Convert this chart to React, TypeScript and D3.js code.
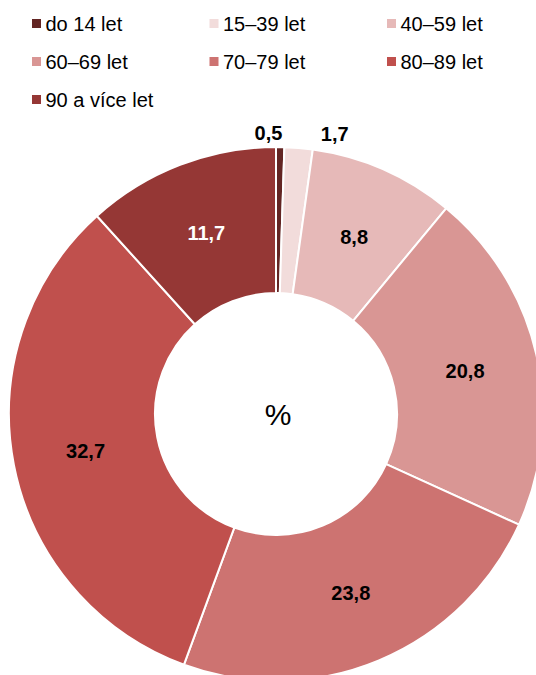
import React from "react";
import * as d3 from "d3";

const categories = ["do 14 let", "15–39 let", "40–59 let", "60–69 let", "70–79 let", "80–89 let", "90 a více let"];
const values = [0.5, 1.7, 8.8, 20.8, 23.8, 32.7, 11.7];
const colors = ["#632523", "#F2DCDB", "#E6B9B8", "#D99694", "#CD7371", "#C0504D", "#953735"];
const labelColors = ["#000", "#000", "#000", "#000", "#000", "#000", "#fff"];
const outsideLabels = [true, true, false, false, false, false, false];

const W = 536;
const H = 675;
const FONT = "'Liberation Sans', Arial, Helvetica, sans-serif";

export default function App() {
  const cx = 276;
  const cy = 414;
  const R = 267;
  const r0 = 121;
  const pie = d3.pie<number>().sort(null).value((d) => d)(values);
  const arc = d3.arc<d3.PieArcDatum<number>>().innerRadius(r0).outerRadius(R);
  const labelArc = d3.arc<d3.PieArcDatum<number>>().innerRadius((r0 + R) / 2).outerRadius((r0 + R) / 2);
  const fmt = (v: number) => v.toFixed(1).replace(".", ",");

  const colX = d3.scalePoint<number>().domain([0, 1, 2]).range([32, 387]);
  const rowY = d3.scalePoint<number>().domain([0, 1, 2]).range([23.5, 99.5]);

  return (
    <div style={{ position: "fixed", left: 0, top: 0 }}>
      <svg width={W} height={H} style={{ display: "block", background: "#fff" }} fontFamily={FONT}>
        <g>
          {categories.map((c, i) => {
            const x = colX(i % 3)!;
            const y = rowY(Math.floor(i / 3))!;
            return (
              <g key={c}>
                <rect x={x} y={y - 4.5} width={9} height={9} fill={colors[i]} />
                <text x={x + 13.5} y={y} dy="0.36em" fontSize={20} fill="#000">
                  {c}
                </text>
              </g>
            );
          })}
        </g>
        <g transform={`translate(${cx},${cy})`}>
          {pie.map((p, i) => (
            <path key={i} d={arc(p)!} fill={colors[i]} stroke="#fff" strokeWidth={2} strokeLinejoin="round" />
          ))}
          {pie.map((p, i) => {
            if (outsideLabels[i]) {
              const mid = (p.startAngle + p.endAngle) / 2;
              const rr = R + 14;
              const x = rr * Math.sin(mid);
              const y = -rr * Math.cos(mid);
              const first = i === 0;
              return (
                <text
                  key={"l" + i}
                  x={x}
                  y={y}
                  dx={first ? 2 : 21}
                  dy="0.36em"
                  textAnchor={first ? "end" : "start"}
                  fontSize={20}
                  fontWeight="bold"
                  fill={labelColors[i]}
                >
                  {fmt(values[i])}
                </text>
              );
            }
            const [x, y] = labelArc.centroid(p);
            return (
              <text
                key={"l" + i}
                x={x}
                y={y}
                dy="0.36em"
                textAnchor="middle"
                fontSize={20}
                fontWeight="bold"
                fill={labelColors[i]}
              >
                {fmt(values[i])}
              </text>
            );
          })}
          <text x={2} y={0} dy="0.36em" textAnchor="middle" fontSize={30} fill="#000">
            %
          </text>
        </g>
      </svg>
    </div>
  );
}
